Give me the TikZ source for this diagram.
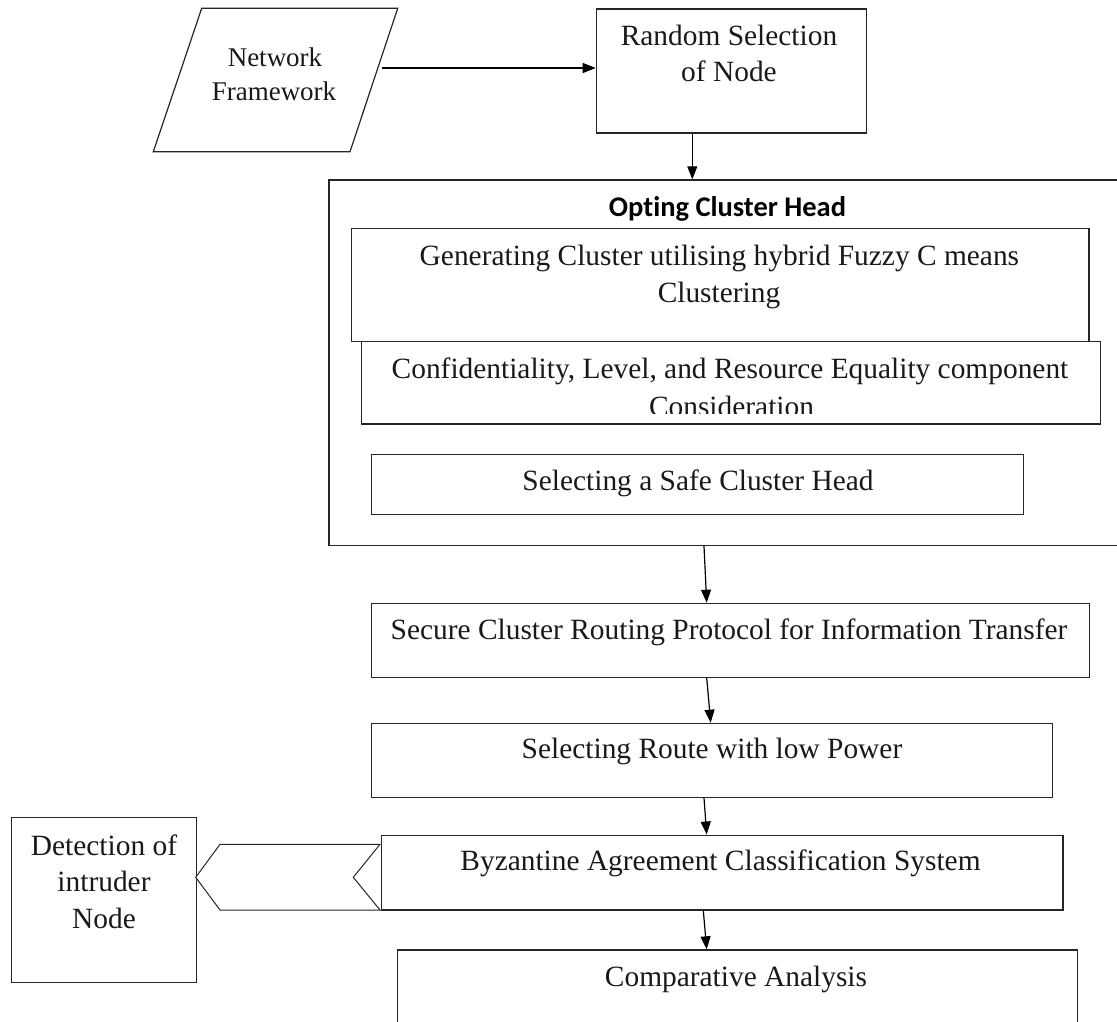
\documentclass[tikz,border=0pt]{standalone}
\usepackage{fontspec}
\setmainfont{Liberation Serif}
\newfontfamily\titlefont[Ligatures=NoCommon]{Carlito}
\usetikzlibrary{arrows.meta,calc}
\begin{document}
\begin{tikzpicture}[x=1pt,y=-1pt,
  box/.style={draw=black!85, line width=1.2pt, inner sep=0pt, anchor=north west},
  txt/.style={anchor=base, inner sep=0pt, text=black!90, font=\fontsize{29.4}{36}\selectfont},
  smalltxt/.style={txt, font=\fontsize{27}{33}\selectfont},
  titletxt/.style={anchor=base, inner sep=0pt, font=\titlefont\bfseries\fontsize{28.5}{34}\selectfont},
  arr/.style={draw=black, line width=1.2pt, -{Triangle[length=13pt,width=10pt]}}]
\useasboundingbox (0,0) rectangle (1117,1021);
\clip (0,0) rectangle (1117,1021);
\fill[white] (0,0) rectangle (1117,1021);

% parallelogram input
\draw[draw=black!85, line width=1.2pt] (201.7,8.3) -- (397.7,8.3) -- (350,151.7) -- (153.3,151.7) -- cycle;
\node[smalltxt] (net1) at (275,66.7) {Network};
\node[smalltxt] (net2) at (274,100) {Framework};
\coordinate (netout) at (381.7,68);

% boxes
\node[box, minimum width=270pt, minimum height=124pt] (rand) at (595.7,8.3) {};
\node[box, minimum width=800pt, minimum height=365.7pt] (big) at (328.3,179.3) {};
\node[box, minimum width=737.6pt, minimum height=113.3pt] (g1) at (350.7,227.7) {};
\node[box, minimum width=739pt, minimum height=82.3pt] (g2) at (361,341) {};
\node[box, minimum width=651.7pt, minimum height=60pt] (g3) at (371,454) {};
\node[box, minimum width=718pt, minimum height=74pt] (sec) at (371,602.7) {};
\node[box, minimum width=680.7pt, minimum height=74pt] (route) at (371,722.7) {};
\node[box, minimum width=681.3pt, minimum height=74.8pt] (byz) at (381,834.5) {};
\node[box, minimum width=680pt, minimum height=100pt] (comp) at (396.7,949.3) {};
\node[box, minimum width=185pt, minimum height=165pt] (det) at (10.7,817) {};

% texts
\node[txt] (randt1) at (729,45) {Random Selection};
\node[txt] (randt2) at (729,81.7) {of Node};
\node[titletxt] (title) at (727.5,216.7) {Opting Cluster Head};
\node[txt] (g1t1) at (719.4,265) {Generating Cluster utilising hybrid Fuzzy C means};
\node[txt] (g1t2) at (719,302) {Clustering};
\node[txt] (g2t1) at (730,378) {Confidentiality, Level, and Resource Equality component};
\begin{scope}
  \clip (361,341) rectangle (1100,413.5);
  \node[txt] (g2t2) at (731.5,416) {Consideration};
\end{scope}
\node[txt] (g3t) at (698,490) {Selecting a Safe Cluster Head};
\node[txt] (sect) at (729,639) {Secure Cluster Routing Protocol for Information Transfer};
\node[txt] (routet) at (712,758) {Selecting Route with low Power};
\node[txt] (byzt) at (720.5,870) {Byzantine Agreement Classification System};
\node[txt] (compt) at (736,986.7) {Comparative Analysis};
\node[txt] (dett1) at (104,855) {Detection of};
\node[txt] (dett2) at (104,891.7) {intruder};
\node[txt] (dett3) at (104,928.3) {Node};

% block arrow to detection
\draw[draw=black!85, line width=1pt, fill=white] (195.7,877.3) -- (220,844.3) -- (380,844.3) -- (353.3,877.3) -- (380,910) -- (220,910) -- cycle;

% connectors
\draw[arr] (netout) -- (rand.west |- netout);
\draw[arr] ([xshift=96.6pt]rand.south west) -- ([xshift=364pt]big.north west);
\draw[arr] ([xshift=375.7pt]big.south west) -- ([xshift=335.7pt]sec.north west);
\draw[arr] ([xshift=335.7pt]sec.south west) -- ([xshift=339.7pt]route.north west);
\draw[arr] ([xshift=333pt]route.south west) -- ([xshift=325.7pt]byz.north west);
\draw[arr] ([xshift=322.3pt]byz.south west) -- ([xshift=310pt]comp.north west);
\end{tikzpicture}
\end{document}
